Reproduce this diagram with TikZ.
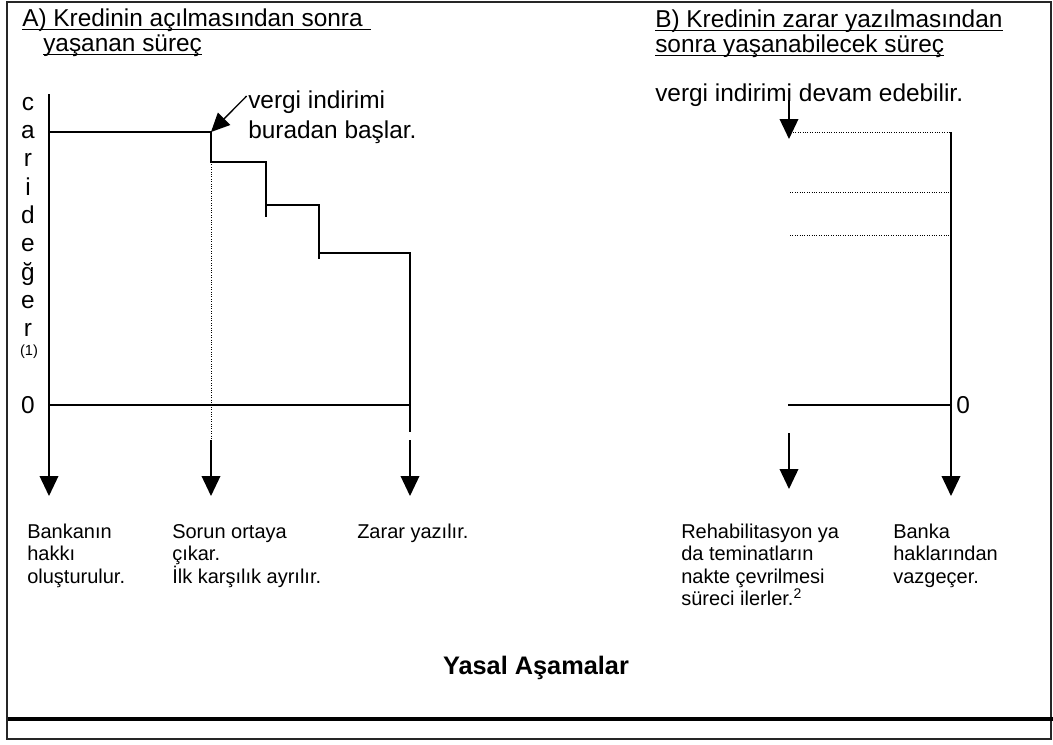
\documentclass[tikz,border=0pt]{standalone}
\usepackage{fontspec}
\setmainfont{Liberation Sans}
\usetikzlibrary{arrows.meta}
\newcommand\labtop[1]{\vtop{\baselineskip=16.9pt\lineskiplimit=-20pt\halign{##\hfil\cr#1\crcr}}}
\tikzset{
  ln/.style={line width=1.1pt},
  dot/.style={line width=0.7pt, dash pattern=on 0.7pt off 1.1pt},
  dn/.style={line width=1.1pt, -{Triangle[width=14pt,length=15pt]}},
  ttl/.style={anchor=base west, inner sep=0pt, font=\fontsize{18.3}{20}\selectfont},
  lbl/.style={anchor=base west, inner sep=0pt, font=\fontsize{15}{16.9}\selectfont},
  ul/.style={line width=0.8pt},
  vl/.style={anchor=base, inner sep=0pt, font=\fontsize{18.3}{20}\selectfont},
}
\begin{document}
\begin{tikzpicture}[x=0.75pt,y=-0.75pt]
\useasboundingbox (0,0) rectangle (1053,744);
% frame
\draw[line width=1.3pt, black!85] (7,2) rectangle (1051,739);
\draw[line width=3pt] (8,719) -- (1053,719);
\node[anchor=base, inner sep=0pt, font=\fontsize{19}{21}\selectfont\bfseries] (yasal) at (536,674) {Yasal Aşamalar};

% titles
\node[ttl] (ta1) at (22,26) {A) Kredinin açılmasından sonra};
\node[ttl] (ta2) at (43,51) {yaşanan süreç};
\draw[ul] ([yshift=-2.6pt]ta1.base west) -- ([yshift=-2.6pt,xshift=6pt]ta1.base east);
\draw[ul] ([yshift=-2.6pt]ta2.base west) -- ([yshift=-2.6pt]ta2.base east);
\node[ttl] (tb1) at (655,27) {B) Kredinin zarar yazılmasından};
\node[ttl] (tb2) at (655,52) {sonra yaşanabilecek süreç};
\draw[ul] ([yshift=-2.6pt]tb1.base west) -- ([yshift=-2.6pt]tb1.base east);
\draw[ul] ([yshift=-2.6pt]tb2.base west) -- ([yshift=-2.6pt]tb2.base east);

% vertical axis label
\foreach \ch/\yy [count=\i] in {c/110, a/138, r/166, i/195, d/223, e/251, ğ/280, e/308, r/336}
  \node[vl] (v\i) at (28,\yy) {\ch};
\node[anchor=base, inner sep=0pt, font=\fontsize{11}{12}\selectfont] (v10) at (29,355) {(1)};
\node[anchor=center, inner sep=0pt, font=\fontsize{18.3}{20}\selectfont] (zeroA) at (28,405) {0};

% left chart coordinates
\coordinate (ytop) at (49,94);
\coordinate (ybot) at (49,496);
\coordinate (p0) at (49,132);
\coordinate (p1) at (211,132);
\coordinate (p2) at (211,162);
\coordinate (p3) at (266,162);
\coordinate (p3b) at (266,217);
\coordinate (p4) at (266,205);
\coordinate (p5) at (319,205);
\coordinate (p5b) at (319,259);
\coordinate (p6) at (319,253);
\coordinate (p7) at (410,253);
\coordinate (p7b) at (410,432);
\coordinate (z0) at (49,405);
\coordinate (z1) at (410,405);
\coordinate (d1) at (211,440);
\coordinate (a2e) at (211,496);
\coordinate (a3s) at (410,440);
\coordinate (a3e) at (410,496);

\draw[dn] (ytop) -- (ybot);
\draw[ln] (p0) -- (p1) -- (p2) -- (p3) -- (p3b);
\draw[ln] (p4) -- (p5) -- (p5b);
\draw[ln] (p6) -- (p7) -- (p7b);
\draw[ln] (z0) -- (z1);
\draw[dot] (p2) -- (d1);
\draw[dn] (d1) -- (a2e);
\draw[dn] (a3s) -- (a3e);

% vergi indirimi (left)
\node[ttl] (vl1) at (248,108) {vergi indirimi};
\node[ttl] (vl2) at (248,138) {buradan başlar.};
\draw[line width=1pt, -{Triangle[width=13pt,length=14pt]}] ([xshift=-1pt,yshift=9pt]vl1.base west) -- (p1);

% right chart
\node[ttl] (vr) at (655,101) {vergi indirimi devam edebilir.};
\coordinate (r0) at (789,100);
\coordinate (r1) at (789,139);
\coordinate (q0) at (793,132);
\coordinate (q1) at (951,132);
\coordinate (q2a) at (790,192);
\coordinate (q2) at (951,192);
\coordinate (q3a) at (790,235);
\coordinate (q3) at (951,235);
\coordinate (rz0) at (788,405);
\coordinate (rz1) at (951,405);
\coordinate (rb) at (951,496);
\coordinate (ra1) at (789,433);
\coordinate (ra2) at (789,489);
\draw[dn] (r0) -- (r1);
\draw[dot] (q0) -- (q1);
\draw[dot] (q2a) -- (q2);
\draw[dot] (q3a) -- (q3);
\draw[dn] (q1) -- (rb);
\draw[ln] (rz0) -- (rz1);
\node[anchor=west, inner sep=0pt, font=\fontsize{18.3}{20}\selectfont] (zeroB) at (956,405) {0};
\draw[dn] (ra1) -- (ra2);

% bottom labels (base = baseline of first line)
\node[lbl] (b1) at (27,538) {\labtop{Bankanın\cr hakkı\cr oluşturulur.}};
\node[lbl] (b2) at (172,538) {\labtop{Sorun ortaya\cr çıkar.\cr İlk karşılık ayrılır.}};
\node[lbl] (b3) at (357,538) {Zarar yazılır.};
\node[lbl] (b4) at (681,538) {\labtop{Rehabilitasyon ya\cr da teminatların\cr nakte çevrilmesi\cr süreci ilerler.\textsuperscript{2}}};
\node[lbl] (b5) at (893,538) {\labtop{Banka\cr haklarından\cr vazgeçer.}};
\end{tikzpicture}
\end{document}
